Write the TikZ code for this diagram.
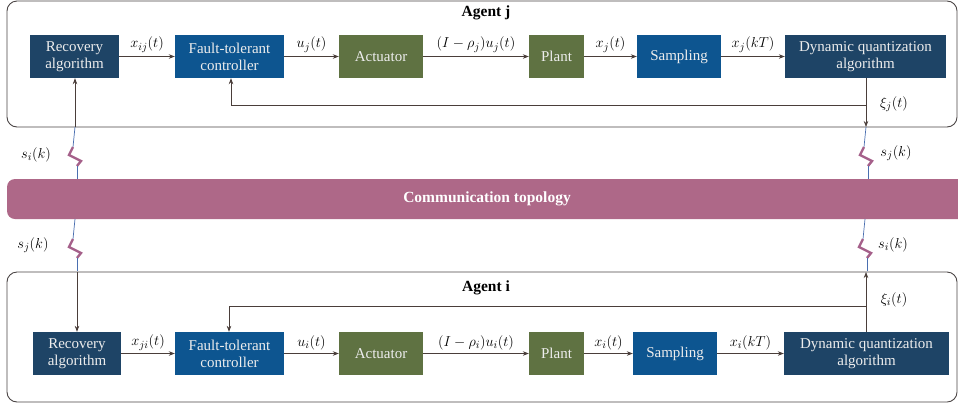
\documentclass[tikz,border=0pt]{standalone}
\usepackage{fontspec}
\setmainfont{Liberation Serif}
\usetikzlibrary{arrows.meta,calc}
\definecolor{navy}{HTML}{1E4466}
\definecolor{midblue}{HTML}{0D5590}
\definecolor{olive}{HTML}{5F7242}
\definecolor{topo}{HTML}{AE6888}
\definecolor{frame}{HTML}{4A4444}
\definecolor{lineC}{HTML}{4A3E3A}
\definecolor{boltblue}{HTML}{4A6FB0}
\definecolor{boltpurple}{HTML}{A5608A}
\definecolor{boxtext}{HTML}{EDEDED}
\tikzset{
  blk/.style={draw=none, text=boxtext, minimum height=43pt, inner sep=0pt, align=center,
    font=\fontsize{15}{17}\selectfont},
  navyblk/.style={blk, fill=navy},
  blueblk/.style={blk, fill=midblue},
  greenblk/.style={blk, fill=olive},
  agentbox/.style={draw=frame, line width=0.9pt, rounded corners=10pt},
  conn/.style={draw=lineC, line width=0.7pt, -{Stealth[length=6pt,width=4.5pt]}},
  lbl/.style={font=\fontsize{15}{17}\selectfont, inner sep=1pt},
  boldlbl/.style={font=\bfseries\fontsize{15.5}{17}\selectfont},
  boltline/.style={draw=boltblue, line width=0.7pt},
  boltzig/.style={draw=boltpurple, line width=2.4pt, line join=miter, miter limit=5},
}
\newcommand{\mybolt}[1]{%
  \draw[boltline] (#1) -- ++(-2,20);
  \draw[boltzig] ($(#1)+(-2,20)$) -- ++(-4,8) -- ++(12,6) -- ++(-4,5);
  \draw[boltline] ($(#1)+(2,39)$) -- ++(0,13);
}
\begin{document}
\begin{tikzpicture}[x=1pt,y=-1pt]
\useasboundingbox (0,0) rectangle (958,408);
% agent frames
\draw[agentbox] (7,1) rectangle (957,127);
\draw[agentbox] (7,272) rectangle (957,402);
% communication band
\fill[topo, rounded corners=8pt] (7,179) rectangle (975,219);
\node[boldlbl, text=white] (topology) at (487,199) {Communication topology};
\node[boldlbl] (agentj) at (486,13) {Agent j};
\node[boldlbl] (agenti) at (486,288) {Agent i};

% top row (agent j)
\node[navyblk, minimum width=89pt] (recJ) at (74.5,56.5) {Recovery\\algorithm};
\node[blueblk, minimum width=109pt] (ftJ) at (229.5,56.5) {Fault-tolerant\\controller};
\node[greenblk, minimum width=84pt] (actJ) at (381,56.5) {Actuator};
\node[greenblk, minimum width=55pt] (plantJ) at (556.5,56.5) {Plant};
\node[blueblk, minimum width=84pt] (sampJ) at (679,56.5) {Sampling};
\node[navyblk, minimum width=161pt] (dynJ) at (865.5,56.5) {Dynamic quantization\\algorithm};

\draw[conn] (recJ) -- node[lbl, above=3pt] {$x_{ij}(t)$} (ftJ);
\draw[conn] (ftJ) -- node[lbl, above=3pt] {$u_j(t)$} (actJ);
\draw[conn] (actJ) -- node[lbl, above=3pt] {$(I-\rho_j)u_j(t)$} (plantJ);
\draw[conn] (plantJ) -- node[lbl, above=3pt] {$x_j(t)$} (sampJ);
\draw[conn] (sampJ) -- node[lbl, above=3pt] {$x_j(kT)$} (dynJ);

\coordinate (jr1) at (866,105);
\coordinate (jr2) at (866,127);
\coordinate (jl1) at (231,105);
\draw[conn] (dynJ.south -| jr1) -- (jr2);
\draw[conn] (jr1) -- (jl1) -- (jl1 |- ftJ.south);
\node[lbl] (xij) at (894,104) {$\xi_j(t)$};

% left up link to recovery j
\coordinate (lj) at (75,127);
\draw[conn] (lj) -- (lj |- recJ.south);

% bottom row (agent i)
\node[navyblk, minimum width=88pt] (recI) at (77,353.5) {Recovery\\algorithm};
\node[blueblk, minimum width=109pt] (ftI) at (229.5,353.5) {Fault-tolerant\\controller};
\node[greenblk, minimum width=84pt] (actI) at (381,353.5) {Actuator};
\node[greenblk, minimum width=55pt] (plantI) at (556.5,353.5) {Plant};
\node[blueblk, minimum width=84pt] (sampI) at (675,353.5) {Sampling};
\node[navyblk, minimum width=165pt] (dynI) at (866.5,353.5) {Dynamic quantization\\algorithm};

\draw[conn] (recI) -- node[lbl, above=2pt] {$x_{ji}(t)$} (ftI);
\draw[conn] (ftI) -- node[lbl, above=2pt] {$u_i(t)$} (actI);
\draw[conn] (actI) -- node[lbl, above=2pt] {$(I-\rho_i)u_i(t)$} (plantI);
\draw[conn] (plantI) -- node[lbl, above=2pt] {$x_i(t)$} (sampI);
\draw[conn] (sampI) -- node[lbl, above=2pt] {$x_i(kT)$} (dynI);

\coordinate (ir1) at (866,306);
\coordinate (ir2) at (866,272);
\coordinate (il1) at (229,306);
\draw[conn] (dynI.north -| ir1) -- (ir2);
\draw[conn] (ir1) -- (il1) -- (il1 |- ftI.north);
\node[lbl] (xii) at (894,300) {$\xi_i(t)$};

\coordinate (li) at (77,272);
\draw[conn] (li) -- (li |- recI.north);

% lightning bolts
\coordinate (b1) at (75,127);
\coordinate (b2) at (866,127);
\coordinate (b3) at (75,219);
\coordinate (b4) at (865,219);
\mybolt{b1}
\mybolt{b2}
\mybolt{b3}
\mybolt{b4}

\node[lbl] (siL) at (36,155) {$s_i(k)$};
\node[lbl] (sjL) at (33,245) {$s_j(k)$};
\node[lbl] (sjR) at (896,153) {$s_j(k)$};
\node[lbl] (siR) at (893,245) {$s_i(k)$};
\end{tikzpicture}
\end{document}
